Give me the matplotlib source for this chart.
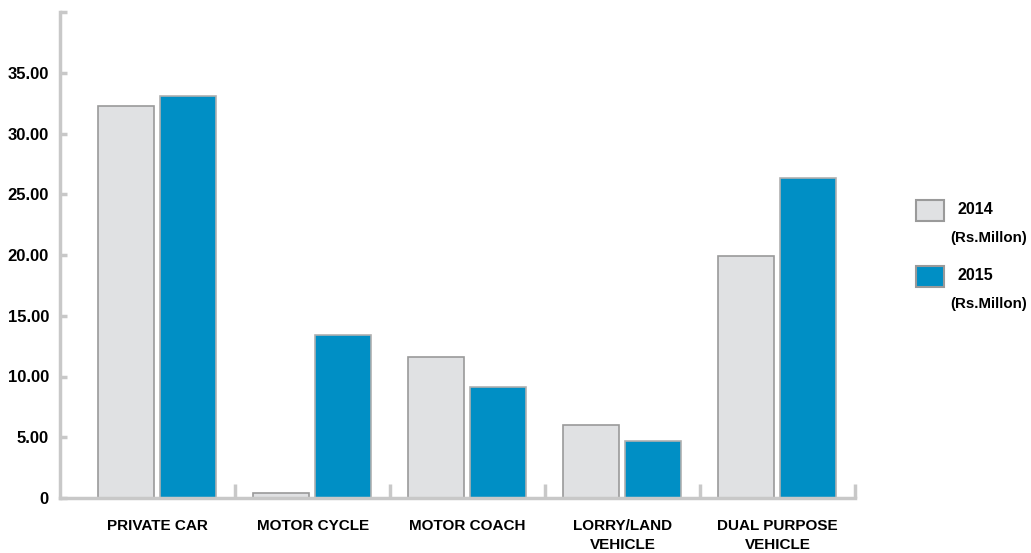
import matplotlib.pyplot as plt
from matplotlib.patches import Rectangle
import numpy as np

plt.rcParams['font.family'] = ['Liberation Sans', 'DejaVu Sans']

# 车辆类别及两年数值 (Rs. Million)
categories = ['PRIVATE CAR', 'MOTOR CYCLE', 'MOTOR COACH', 'LORRY/LAND\nVEHICLE', 'DUAL PURPOSE\nVEHICLE']
values_2014 = [32.25, 0.40, 11.62, 6.02, 19.88]
values_2015 = [33.08, 13.45, 9.15, 4.70, 26.32]
years = ['2014', '2015']
yticks = [0, 5, 10, 15, 20, 25, 30, 35, 40]
ytick_labels = ['0', '5.00', '10.00', '15.00', '20.00', '25.00', '30.00', '35.00', '']

grey = '#e0e1e3'
blue = '#008fc5'
axis_col = '#c8c8c8'

fig = plt.figure(figsize=(10.31, 5.53), dpi=100)
ax = fig.add_axes([60 / 1031, 1 - 498 / 553, 795 / 1031, 486 / 553])

x = np.arange(len(categories))
w = 0.36
ax.bar(x - 0.025 - w / 2, values_2014, w, color=grey, edgecolor='#9a9a9a', linewidth=1.2)
ax.bar(x + 0.015 + w / 2, values_2015, w, color=blue, edgecolor='#b0b0b0', linewidth=1.2)

ax.set_xlim(-0.632, 4.5)
ax.set_ylim(0, 40)

for s in ['top', 'right']:
    ax.spines[s].set_visible(False)
for s in ['left', 'bottom']:
    ax.spines[s].set_color(axis_col)
    ax.spines[s].set_linewidth(2.5)

ax.set_yticks(yticks)
ax.set_yticklabels(ytick_labels, fontsize=12, fontweight='bold')
ax.tick_params(axis='y', direction='in', length=5, width=2.5, color=axis_col, pad=8)

ax.set_xticks(x)
ax.set_xticklabels(categories, fontsize=11, fontweight='bold', linespacing=1.5, va='top')
ax.tick_params(axis='x', which='major', length=0, pad=15)
ax.set_xticks(np.arange(0.5, 5, 1), minor=True)
ax.tick_params(axis='x', which='minor', direction='in', length=10, width=2.5, color=axis_col)

# 图例
for i, (yr, col) in enumerate(zip(years, [grey, blue])):
    top = 200 + i * 66
    fig.patches.append(Rectangle((916 / 1031, 1 - (top + 21) / 553), 28 / 1031, 21 / 553,
                                 transform=fig.transFigure, facecolor=col, edgecolor='#9a9a9a', linewidth=1.5))
    fig.text(958 / 1031, 1 - (top + 10) / 553, yr, fontsize=11.5, fontweight='bold', va='center')
    fig.text(950 / 1031, 1 - (top + 38) / 553, '(Rs.Millon)', fontsize=10.8, fontweight='bold', va='center')

fig.savefig('out.png', dpi=100)
